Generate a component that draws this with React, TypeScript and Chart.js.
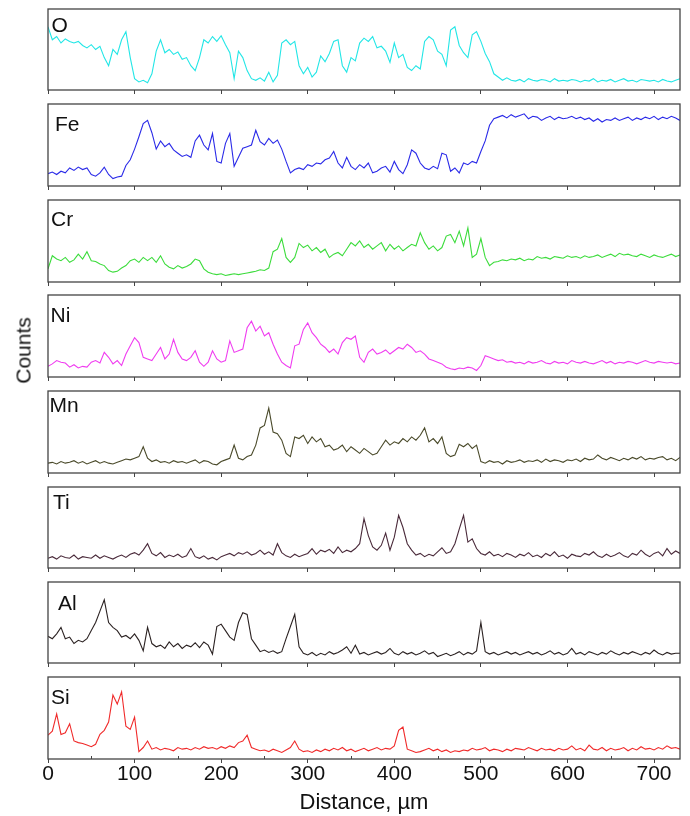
import React, { useEffect, useRef } from "react";
import { Chart, registerables } from "chart.js";

Chart.register(...registerables);

const FONT = '"Liberation Sans", Arial, sans-serif';

// Distance along the line scan, µm
const distance = [
  0, 5, 10, 15, 20, 25, 30, 35, 40, 45,
  50, 55, 60, 65, 70, 75, 80, 85, 90, 95,
  100, 105, 110, 115, 120, 125, 130, 135, 140, 145,
  150, 155, 160, 165, 170, 175, 180, 185, 190, 195,
  200, 205, 210, 215, 220, 225, 230, 235, 240, 245,
  250, 255, 260, 265, 270, 275, 280, 285, 290, 295,
  300, 305, 310, 315, 320, 325, 330, 335, 340, 345,
  350, 355, 360, 365, 370, 375, 380, 385, 390, 395,
  400, 405, 410, 415, 420, 425, 430, 435, 440, 445,
  450, 455, 460, 465, 470, 475, 480, 485, 490, 495,
  500, 505, 510, 515, 520, 525, 530, 535, 540, 545,
  550, 555, 560, 565, 570, 575, 580, 585, 590, 595,
  600, 605, 610, 615, 620, 625, 630, 635, 640, 645,
  650, 655, 660, 665, 670, 675, 680, 685, 690, 695,
  700, 705, 710, 715, 720, 725, 730,
];

const xTickLabels = ["0", "100", "200", "300", "400", "500", "600", "700"];
const minorTicks = [50, 150, 250, 350, 450, 550, 650];

// Counts (relative, % of panel height)
const oCounts = [
  78, 62, 66, 58, 63, 60, 58, 60, 55, 52,
  56, 50, 54, 40, 30, 50, 44, 62, 72, 40,
  14, 10, 12, 9, 20, 48, 62, 46, 50, 44,
  47, 38, 40, 30, 24, 40, 62, 58, 66, 60,
  67, 56, 46, 14, 48, 40, 24, 14, 12, 15,
  11, 22, 10, 18, 58, 62, 56, 60, 30, 20,
  28, 16, 22, 42, 35, 45, 60, 62, 30, 22,
  40, 36, 58, 64, 60, 66, 52, 54, 48, 34,
  58, 40, 44, 28, 24, 30, 26, 60, 66, 62,
  48, 44, 30, 74, 78, 55, 46, 40, 68, 72,
  60, 45, 35, 20, 16, 12, 15, 12, 11, 13,
  10, 14, 12, 11, 13, 12, 10, 14, 11, 12,
  11, 13, 12, 10, 12, 11, 14, 10, 12, 11,
  13, 10, 12, 14, 11, 12, 10, 13, 12, 11,
  12, 10, 13, 11, 10, 12, 14,
];

const feCounts = [
  15, 17, 14, 18, 16, 22, 19, 23, 20, 22,
  14, 12, 16, 23, 14, 9, 11, 12, 25, 32,
  45, 60, 76, 80, 65, 45, 55, 48, 52, 44,
  40, 36, 38, 35, 55, 62, 50, 44, 64, 30,
  28, 52, 64, 24, 35, 46, 48, 50, 68, 54,
  50, 58, 52, 56, 45, 30, 16, 20, 22, 20,
  26, 24, 28, 27, 32, 34, 42, 28, 22, 35,
  24, 20, 26, 22, 28, 16, 18, 22, 24, 17,
  30, 20, 15, 26, 44, 40, 28, 22, 20, 24,
  21, 40, 38, 18, 22, 16, 28, 26, 30, 28,
  42, 55, 74, 82, 84, 86, 83, 87, 84, 86,
  88, 82, 85, 84, 80, 83, 85, 81, 84, 82,
  83, 85, 82, 84, 81, 83, 79, 82, 78, 81,
  80, 83, 80, 82, 84, 80, 83, 81, 84, 82,
  85, 81, 84, 82, 85, 83, 80,
];

const crCounts = [
  16, 32, 28, 26, 30, 24, 27, 34, 28, 37,
  26, 25, 22, 20, 14, 12, 13, 17, 20, 26,
  28, 24, 30, 26, 30, 24, 32, 22, 18, 16,
  20, 17, 19, 22, 28, 26, 16, 12, 10, 9,
  10, 8, 9, 10, 9, 10, 11, 12, 13, 15,
  14, 17, 37, 40, 53, 30, 24, 30, 47, 42,
  45, 38, 42, 36, 40, 30, 34, 36, 32, 40,
  48, 44, 50, 42, 46, 40, 44, 48, 38, 46,
  40, 44, 38, 42, 46, 44, 60, 48, 40, 44,
  38, 42, 56, 58, 48, 62, 44, 66, 30, 34,
  53, 30, 20, 24, 25, 27, 26, 28, 27, 29,
  26, 28, 27, 31, 29, 30, 28, 31, 30, 29,
  32, 30, 31, 29, 32, 30, 31, 33, 30, 32,
  34, 31, 35, 33, 34, 32, 31, 34, 32, 30,
  33, 31, 30, 32, 34, 31, 33,
];

const niCounts = [
  13, 16, 20, 18, 17, 12, 15, 11, 13, 12,
  18, 20, 17, 30, 24, 16, 20, 14, 28, 38,
  48, 42, 24, 22, 20, 28, 36, 22, 28, 46,
  30, 22, 20, 24, 32, 18, 13, 18, 32, 22,
  18, 20, 44, 30, 32, 34, 60, 68, 56, 62,
  50, 54, 40, 28, 18, 14, 11, 38, 40, 58,
  66, 54, 48, 40, 36, 30, 34, 28, 42, 48,
  46, 50, 24, 18, 30, 34, 28, 30, 33, 28,
  32, 36, 34, 40, 36, 30, 32, 28, 22, 20,
  18, 16, 12, 10, 9, 11, 10, 12, 11, 8,
  14, 26, 24, 22, 20, 21, 18, 19, 17, 18,
  16, 19, 17, 18, 20, 17, 16, 19, 17, 18,
  16, 20, 18, 17, 19, 17, 16, 18, 20, 17,
  19, 16, 18, 17, 19, 18, 16, 18, 20, 18,
  17, 19, 18, 17, 18, 16, 17,
];

const mnCounts = [
  12, 13, 11, 14, 12, 13, 15, 12, 14, 11,
  13, 15, 12, 14, 12, 11, 13, 15, 17, 16,
  18, 20, 32, 18, 14, 16, 13, 14, 12, 15,
  13, 14, 12, 14, 16, 12, 15, 14, 11, 10,
  14, 16, 18, 34, 18, 16, 20, 22, 34, 55,
  58, 79, 50, 48, 40, 24, 20, 44, 42, 46,
  36, 44, 38, 42, 32, 34, 28, 30, 34, 26,
  32, 28, 24, 30, 26, 22, 24, 32, 40, 34,
  38, 36, 42, 38, 44, 40, 46, 55, 38, 42,
  36, 44, 24, 20, 22, 35, 32, 36, 30, 34,
  14, 12, 15, 13, 14, 11, 15, 13, 14, 16,
  13, 15, 14, 16, 13, 17, 14, 16, 15, 13,
  16, 15, 17, 14, 18, 16, 17, 22, 18, 16,
  19, 17, 15, 18, 16, 19, 17, 20, 16, 18,
  17, 19, 20, 16, 18, 15, 19,
];

const tiCounts = [
  12, 14, 11, 15, 13, 12, 16, 11, 14, 13,
  12, 16, 12, 15, 13, 11, 14, 16, 13, 17,
  19, 16, 22, 30, 18, 15, 19, 13, 16, 14,
  17, 13, 15, 24, 14, 12, 15, 11, 13, 10,
  14, 16, 18, 15, 19, 17, 20, 16, 18, 22,
  17, 20, 16, 30, 19, 15, 13, 17, 14, 16,
  18, 24, 17, 22, 20, 23, 18, 26, 19, 22,
  20, 24, 30, 61, 40, 26, 22, 28, 43, 22,
  38, 65, 50, 30, 22, 16, 18, 14, 17, 15,
  20, 25, 18, 20, 30, 48, 65, 32, 36, 24,
  18, 16, 20, 15, 17, 14, 18, 16, 13, 17,
  15, 19, 14, 16, 13, 18, 15, 20, 14, 16,
  12, 17, 15, 14, 18, 16, 20, 15, 13, 17,
  14, 16, 19, 15, 13, 18, 16, 22, 17, 14,
  18, 20, 15, 24, 17, 21, 18,
];

const alCounts = [
  33, 30, 36, 44, 30, 32, 24, 28, 26, 30,
  40, 50, 64, 78, 50, 44, 40, 32, 34, 30,
  36, 28, 15, 44, 24, 20, 22, 18, 26, 20,
  24, 18, 22, 20, 25, 19, 26, 22, 11, 45,
  48, 40, 32, 28, 50, 62, 60, 30, 22, 14,
  16, 13, 15, 12, 14, 30, 45, 60, 20, 12,
  10, 13, 9, 12, 10, 14, 11, 13, 16, 20,
  12, 22, 11, 13, 10, 12, 14, 11, 13, 18,
  12, 10, 14, 11, 13, 10, 12, 15, 11, 13,
  8, 10, 12, 9, 11, 14, 10, 13, 11, 15,
  50, 14, 11, 13, 10, 12, 14, 11, 13, 10,
  12, 14, 11, 13, 10, 12, 15, 11, 13, 10,
  12, 18, 11, 13, 10, 14, 12, 10, 13, 11,
  15, 12, 10, 13, 11, 14, 12, 10, 13, 11,
  16, 12, 10, 13, 11, 12, 12,
];

const siCounts = [
  29, 34, 55, 30, 32, 43, 22, 20, 19, 17,
  15, 18, 30, 35, 45, 78, 67, 82, 40, 36,
  51, 9, 14, 22, 12, 14, 11, 13, 12, 10,
  14, 12, 13, 11, 14, 12, 15, 13, 14, 12,
  15, 13, 16, 14, 20, 22, 29, 14, 12, 10,
  11, 9, 12, 10, 8, 11, 14, 22, 12, 9,
  10, 8, 11, 9, 12, 10, 13, 11, 14, 10,
  12, 9, 11, 13, 10, 12, 14, 11, 13, 12,
  16, 35, 39, 12, 10, 8, 9, 11, 13, 10,
  12, 9, 11, 8, 10, 9, 11, 10, 13, 11,
  12, 14, 10, 12, 11, 9, 12, 10, 13, 12,
  11, 14, 12, 10, 13, 11, 12, 10, 13, 11,
  12, 16, 11, 13, 10, 17, 12, 11, 14, 10,
  13, 11, 12, 14, 10, 13, 11, 15, 12, 13,
  11, 14, 12, 16, 13, 14, 12,
];

const elements = ["O", "Fe", "Cr", "Ni", "Mn", "Ti", "Al", "Si"];
const seriesList = [oCounts, feCounts, crCounts, niCounts, mnCounts, tiCounts, alCounts, siCounts];
const colors = ["#22e6e6", "#2a2ae8", "#3cdc3c", "#f03cf0", "#4a4a2a", "#4a2a3a", "#2b2222", "#f02a2a"];

// layout (page pixels)
const PANEL_TOP = [9, 104, 200, 295, 391, 487, 582, 677];
const PANEL_BOTTOM = [90, 186, 282, 377, 473, 568, 663, 759];
const LABEL_POS = [
  [51.5, 14], [55, 112.5], [51, 207.5], [50.5, 303.5],
  [49.5, 394], [53, 490.5], [58, 592.3], [51, 686.3],
];
const PAGE_H = 816;

function Panel({ idx }: { idx: number }) {
  const ref = useRef<HTMLCanvasElement | null>(null);
  const last = idx === elements.length - 1;
  const top = PANEL_TOP[idx];
  const bottom = PANEL_BOTTOM[idx];
  const canvasTop = top - 5;
  const canvasH = last ? PAGE_H - canvasTop : bottom - top + 5 + 4 + 3;

  useEffect(() => {
    if (!ref.current) return;
    const series = seriesList[idx];
    const framePlugin = {
      id: "frame" + idx,
      afterDatasetsDraw(chart: any) {
        const { ctx, chartArea: a } = chart;
        ctx.save();
        ctx.strokeStyle = "#444";
        ctx.lineWidth = 1.3;
        ctx.strokeRect(a.left, a.top, a.right - a.left, a.bottom - a.top);
        if (last) {
          ctx.lineWidth = 1;
          const xs = chart.scales.x;
          for (const v of minorTicks) {
            const px = Math.round(xs.getPixelForValue(v)) + 0.5;
            ctx.beginPath();
            ctx.moveTo(px, a.bottom);
            ctx.lineTo(px, a.bottom - 3);
            ctx.stroke();
          }
        }
        ctx.restore();
      },
    };
    const chart = new Chart(ref.current, {
      type: "line",
      data: {
        datasets: [
          {
            label: elements[idx],
            data: distance.map((x, i) => ({ x, y: series[i] })),
            borderColor: colors[idx],
            borderWidth: 1.1,
            pointRadius: 0,
            tension: 0,
            fill: false,
          },
        ],
      },
      options: {
        animation: false,
        responsive: false,
        events: [],
        layout: { padding: { left: 48, right: 10, top: 5, bottom: last ? 0 : 3 } },
        plugins: { legend: { display: false }, tooltip: { enabled: false } },
        scales: {
          x: {
            type: "linear",
            min: 0,
            max: 730,
            afterFit: last
              ? (s: any) => {
                  s.height = PAGE_H - PANEL_BOTTOM[idx];
                }
              : undefined,
            ticks: {
              display: last,
              stepSize: 100,
              includeBounds: false,
              autoSkip: false,
              maxRotation: 0,
              padding: 1,
              color: "#111",
              font: { family: FONT, size: 21, lineHeight: 1 },
              callback: (v: any) => xTickLabels[Math.round(Number(v) / 100)] ?? "",
            },
            grid: {
              display: true,
              drawOnChartArea: false,
              drawTicks: true,
              tickLength: 4,
              color: "#444",
              lineWidth: 1,
            },
            border: { display: false },
            title: {
              display: last,
              text: "Distance, µm",
              color: "#111",
              padding: 0,
              font: { family: FONT, size: 22 },
            },
          },
          y: { display: false, min: 0, max: 100 },
        },
      } as any,
      plugins: [framePlugin],
    });
    return () => chart.destroy();
  }, [idx]);

  return (
    <canvas
      ref={ref}
      width={690}
      height={canvasH}
      style={{ position: "absolute", left: 0, top: canvasTop, width: 690, height: canvasH }}
    />
  );
}

export default function App() {
  return (
    <div
      style={{
        position: "absolute",
        left: 0,
        top: 0,
        width: 690,
        height: PAGE_H,
        background: "#fff",
        overflow: "hidden",
        fontFamily: FONT,
      }}
    >
      {elements.map((_, i) => (
        <Panel key={i} idx={i} />
      ))}
      {elements.map((el, i) => (
        <div
          key={"l" + i}
          style={{
            position: "absolute",
            left: LABEL_POS[i][0],
            top: LABEL_POS[i][1],
            fontSize: 21,
            lineHeight: "21px",
            color: "#111",
            whiteSpace: "nowrap",
          }}
        >
          {el}
        </div>
      ))}
      <div
        style={{
          position: "absolute",
          left: 23 - 45,
          top: 350 - 10.5,
          width: 90,
          height: 21,
          fontSize: 21,
          lineHeight: "21px",
          textAlign: "center",
          color: "#111",
          transform: "rotate(-90deg)",
          whiteSpace: "nowrap",
        }}
      >
        Counts
      </div>
    </div>
  );
}
